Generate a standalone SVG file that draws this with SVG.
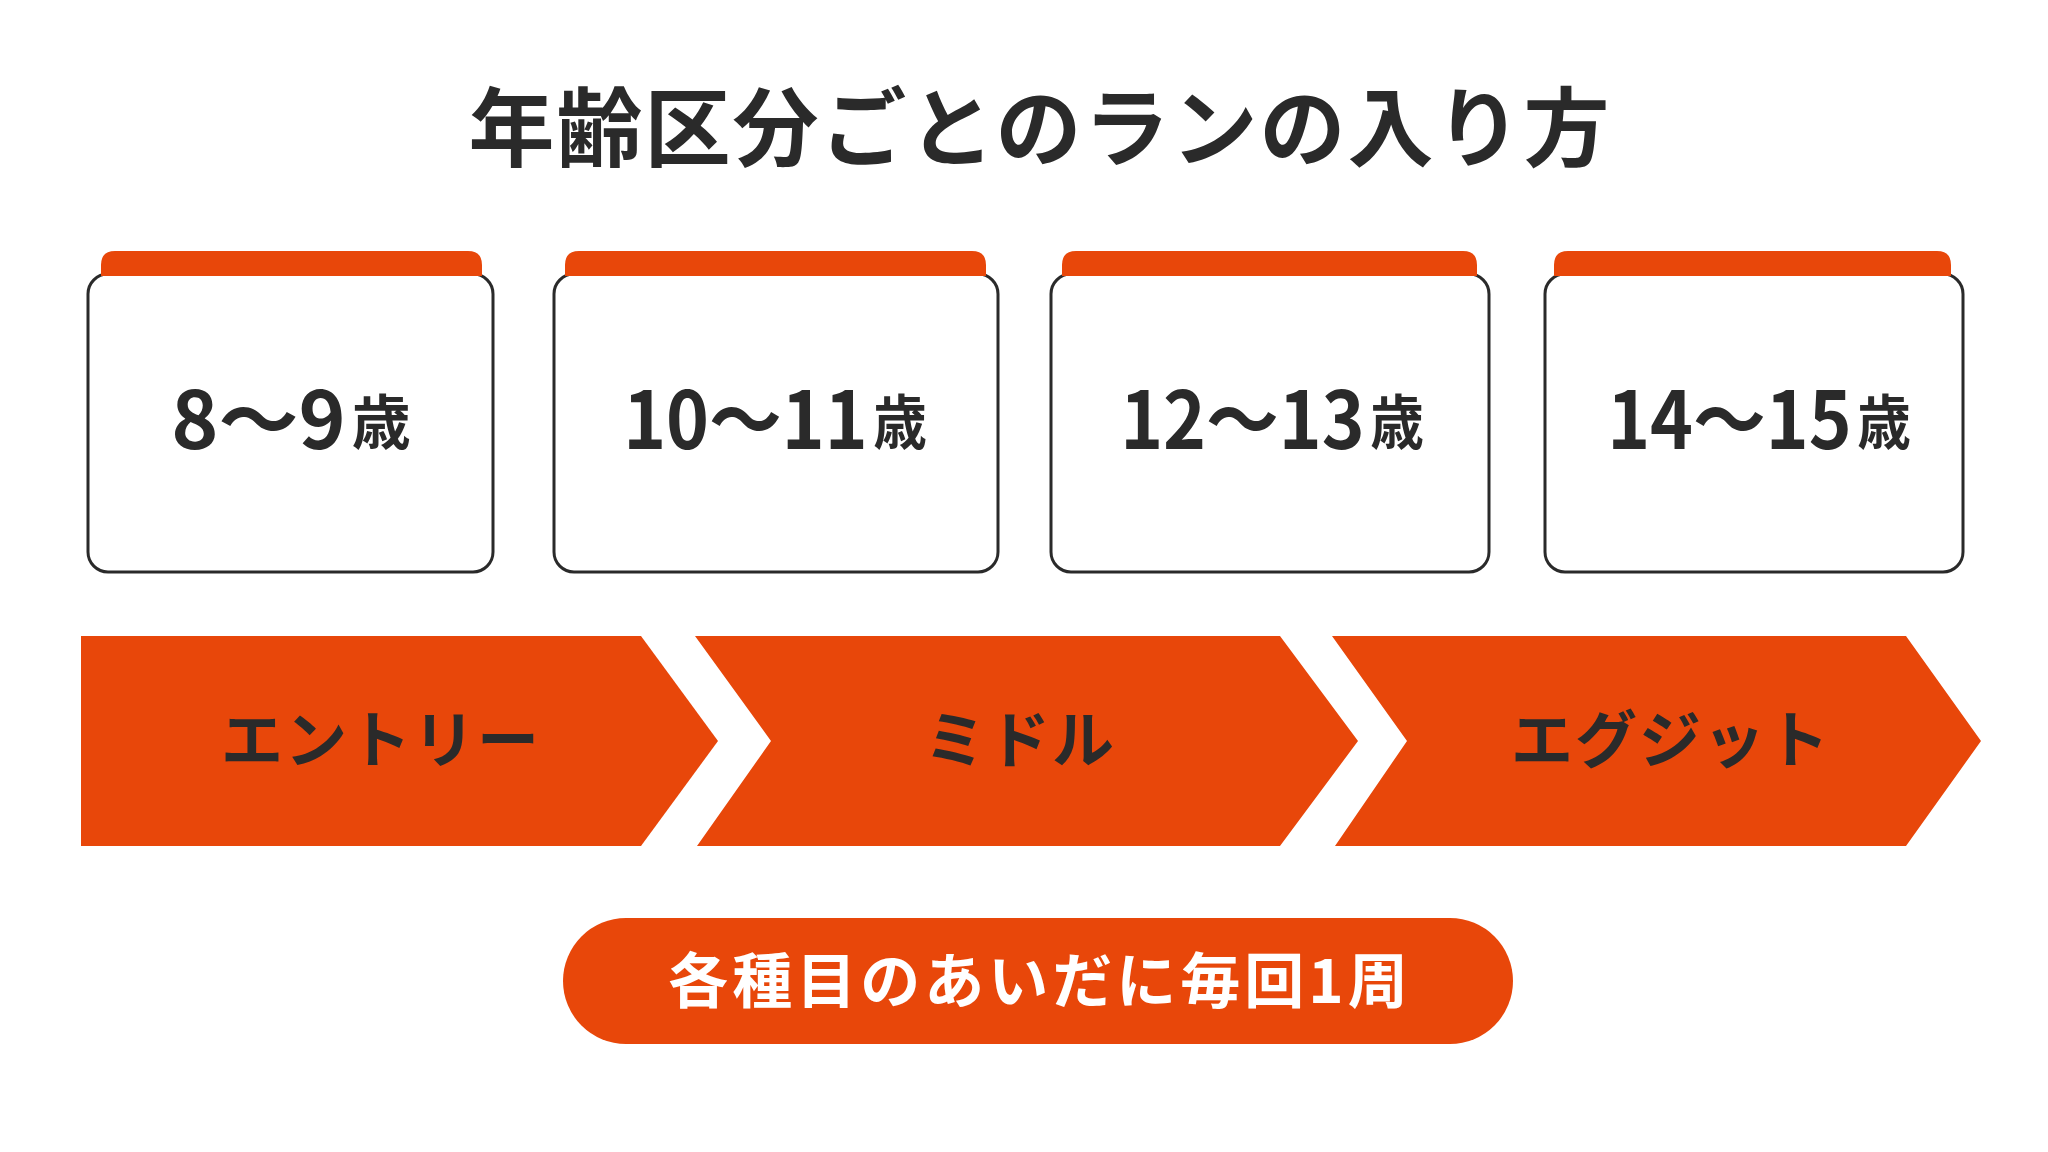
<svg xmlns="http://www.w3.org/2000/svg" width="2048" height="1152" viewBox="0 0 2048 1152">
<style>
.bg{fill:#ffffff}
.card{fill:#ffffff;stroke:#2a2a2a;stroke-width:3}
.tab{fill:#E8470A}
.chev{fill:#E8470A}
.pill{fill:#E8470A}
.t{font-family:"Noto Sans CJK JP","Noto Sans",sans-serif;font-weight:700}
.dark{fill:#2a2a2a}
.title{font-size:86px;letter-spacing:2px}
.age{font-size:80px}
.sai{font-size:59px}
.stage{font-size:62px;letter-spacing:2px}
.note{font-size:60px;letter-spacing:4px;fill:#ffffff}
</style>
<rect class="bg" x="0" y="0" width="2048" height="1152"/>

<g id="title">
<text class="t dark title" x="1040" y="160" text-anchor="middle">年齢区分ごとのランの入り方</text>
</g>

<g id="card1">
<rect class="card" x="88" y="274" width="405" height="298" rx="20"/>
<path class="tab" d="M101,276 L101,265 Q101,251 115,251 L468,251 Q482,251 482,265 L482,276 Z"/>
<text class="t dark age" x="291" y="449" text-anchor="middle">8～9<tspan class="sai" dx="6" dy="-5">歳</tspan></text>
</g>

<g id="card2">
<rect class="card" x="554" y="274" width="444" height="298" rx="20"/>
<path class="tab" d="M565,276 L565,265 Q565,251 579,251 L972,251 Q986,251 986,265 L986,276 Z"/>
<text class="t dark age" transform="translate(775,0) scale(0.91,1)" x="0" y="449" text-anchor="middle">10～11<tspan class="sai" dx="6" dy="-5">歳</tspan></text>
</g>

<g id="card3">
<rect class="card" x="1051" y="274" width="438" height="298" rx="20"/>
<path class="tab" d="M1062,276 L1062,265 Q1062,251 1076,251 L1463,251 Q1477,251 1477,265 L1477,276 Z"/>
<text class="t dark age" transform="translate(1272,0) scale(0.91,1)" x="0" y="449" text-anchor="middle">12～13<tspan class="sai" dx="6" dy="-5">歳</tspan></text>
</g>

<g id="card4">
<rect class="card" x="1545" y="274" width="418" height="298" rx="20"/>
<path class="tab" d="M1554,276 L1554,265 Q1554,251 1568,251 L1937,251 Q1951,251 1951,265 L1951,276 Z"/>
<text class="t dark age" transform="translate(1759,0) scale(0.91,1)" x="0" y="449" text-anchor="middle">14～15<tspan class="sai" dx="6" dy="-5">歳</tspan></text>
</g>

<g id="stage-entry">
<path class="chev" d="M81,636 L641,636 L718,741 L641,846 L81,846 Z"/>
<text class="t dark stage" x="381" y="763" text-anchor="middle">エントリー</text>
</g>

<g id="stage-middle">
<path class="chev" d="M695,636 L1280,636 L1358,741 L1280,846 L697,846 L771,741 Z"/>
<text class="t dark stage" x="1020" y="763" text-anchor="middle">ミドル</text>
</g>

<g id="stage-exit">
<path class="chev" d="M1332,636 L1906,636 L1981,741 L1906,846 L1335,846 L1407,741 Z"/>
<text class="t dark stage" x="1671" y="763" text-anchor="middle">エグジット</text>
</g>

<g id="note">
<rect class="pill" x="563" y="918" width="950" height="126" rx="63"/>
<text class="t note" x="1040" y="1003" text-anchor="middle">各種目のあいだに毎回1周</text>
</g>

<g id="connectors"></g>
</svg>
